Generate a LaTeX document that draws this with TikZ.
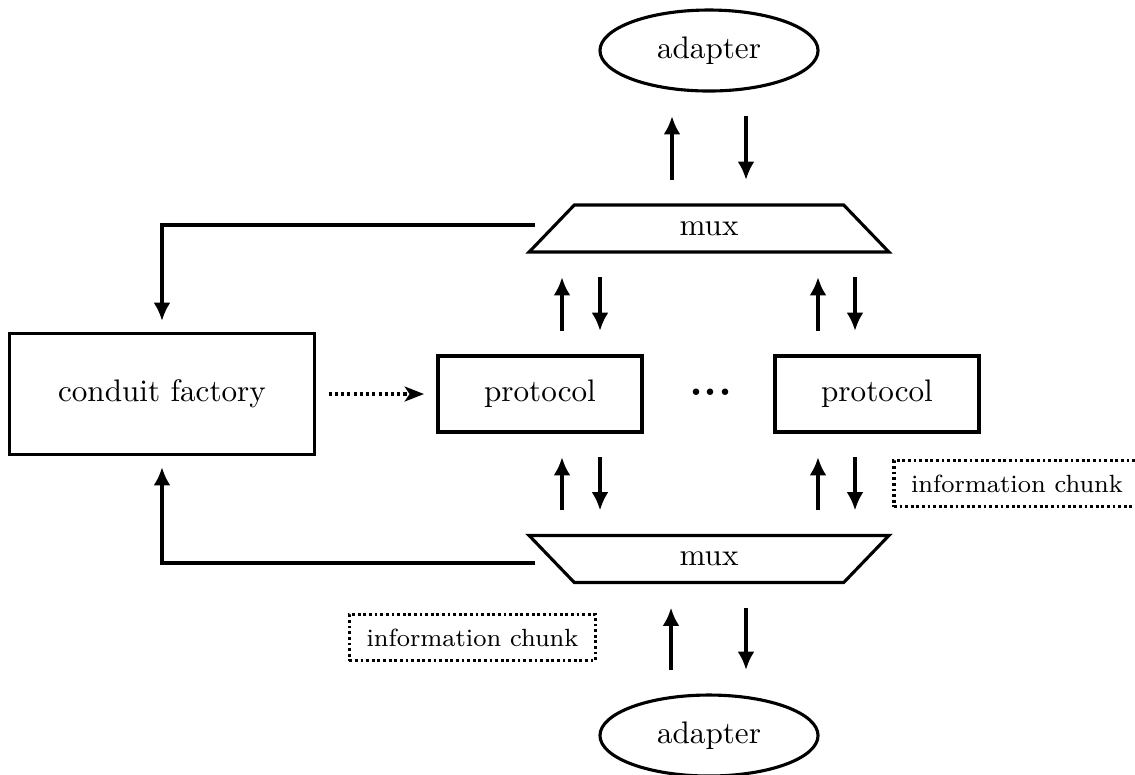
\documentclass[tikz,border=0pt]{standalone}
\usetikzlibrary{shapes.geometric,arrows.meta,calc}
\begin{document}
\begin{tikzpicture}[x=0.321pt,y=-0.321pt,
  factory/.style={draw, line width=1pt, minimum width=98pt, minimum height=39pt},
  proto/.style={draw, line width=1pt, minimum width=65.5pt, minimum height=24.4pt},
  adapt/.style={draw, ellipse, line width=1pt, minimum width=70pt, minimum height=26pt, inner sep=0pt},
  muxbox/.style={draw, trapezium, trapezium stretches=true,
    trapezium left angle=55, trapezium right angle=55,
    minimum width=115.6pt, minimum height=15.1pt, line width=1pt, inner sep=0pt},
  chunk/.style={draw, line width=1pt, dash pattern=on 0.9pt off 0.9pt,
    minimum width=79pt, minimum height=14.8pt, font=\footnotesize},
  flow/.style={-{Latex[length=5.8pt,width=5.4pt]}, line width=1pt,
    shorten >=7.6pt, shorten <=7.6pt},
  link/.style={-{Latex[length=5.8pt,width=5.4pt]}, line width=1pt, shorten >=3.5pt},
  spawn/.style={-{Stealth[length=6.2pt,width=4.8pt,inset=1.6pt]}, line width=1pt,
    dash pattern=on 1pt off 1pt, shorten >=4pt, shorten <=4pt}
]
\useasboundingbox (0,0) rectangle (1135,774);

% nodes
\node[adapt] (adT) at (709,50.5) {adapter};
\node[muxbox] (muxT) at (709,228.5) {mux};
\node[factory] (cf) at (162,394) {conduit factory};
\node[proto] (p1) at (540,394) {protocol};
\node (dots) at (711,392) {\Large\bfseries ...};
\node[proto] (p2) at (877,394) {protocol};
\node[muxbox, shape border rotate=180] (muxB) at (709,559) {mux};
\node[adapt] (adB) at (709,735.5) {adapter};
\node[chunk] (chR) at (1017,483.5) {information chunk};
\node[chunk] (chL) at (472.5,637.5) {information chunk};

% adapter <-> upper mux
\draw[flow] (muxT.north -| 672,0) -- (adT.south -| 672,0);
\draw[flow] (adT.south -| 746,0) -- (muxT.north -| 746,0);

% upper mux <-> protocols
\draw[flow] (p1.north -| 562,0) -- (muxT.south -| 562,0);
\draw[flow] (muxT.south -| 600,0) -- (p1.north -| 600,0);
\draw[flow] (p2.north -| 818,0) -- (muxT.south -| 818,0);
\draw[flow] (muxT.south -| 855,0) -- (p2.north -| 855,0);

% protocols <-> lower mux
\draw[flow] (muxB.north -| 562,0) -- (p1.south -| 562,0);
\draw[flow] (p1.south -| 600,0) -- (muxB.north -| 600,0);
\draw[flow] (muxB.north -| 818,0) -- (p2.south -| 818,0);
\draw[flow] (p2.south -| 855,0) -- (muxB.north -| 855,0);

% adapter <-> lower mux
\draw[flow] (adB.north -| 671,0) -- (muxB.south -| 671,0);
\draw[flow] (muxB.south -| 746,0) -- (adB.north -| 746,0);

% muxes report to the factory
\coordinate (tapT) at (535,225);
\coordinate (tapB) at (535,563);
\draw[link] (tapT) -| (cf.north);
\draw[link] (tapB) -| (cf.south);

% factory creates protocols
\draw[spawn] (cf.east) -- (p1.west);
\end{tikzpicture}
\end{document}
